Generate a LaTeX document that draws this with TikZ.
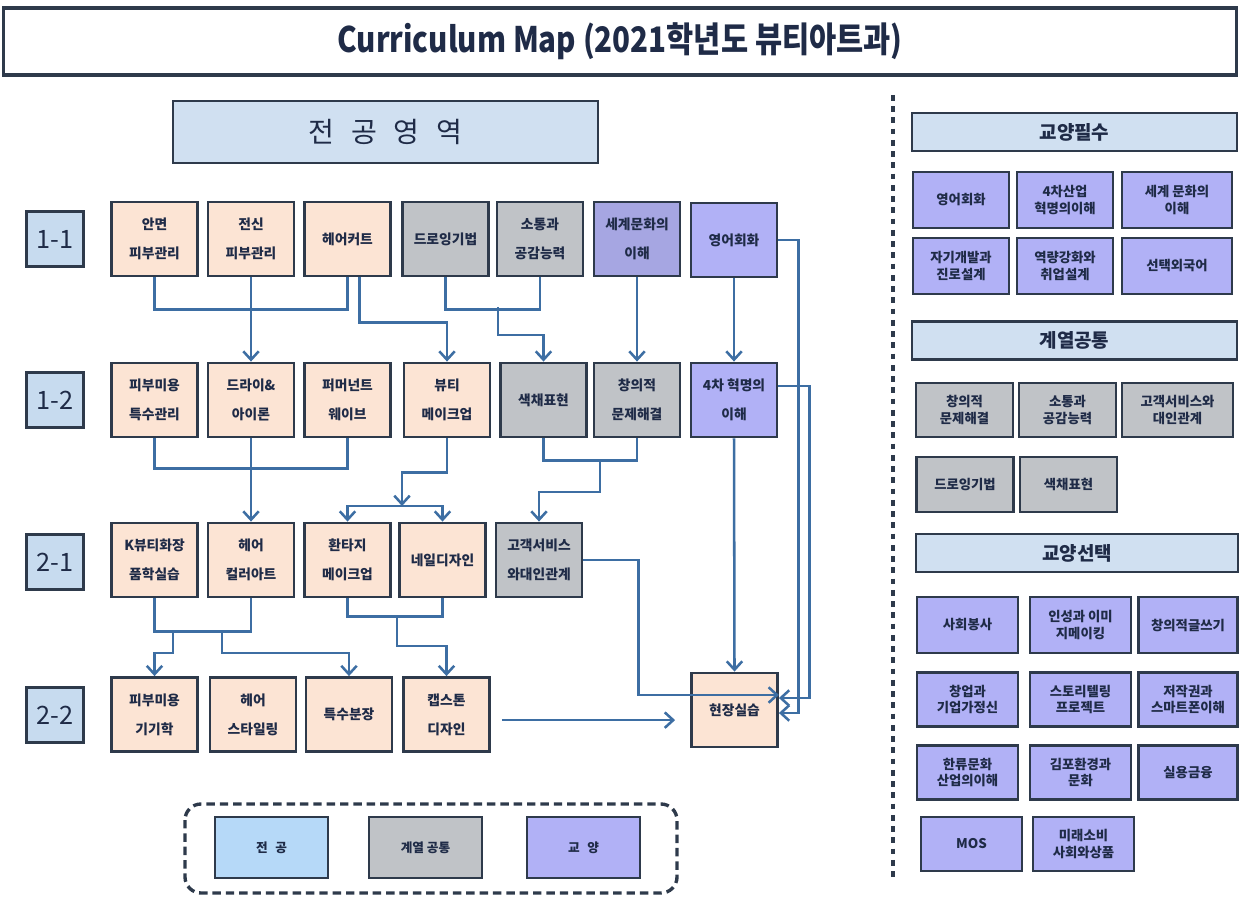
\documentclass[tikz,border=0pt]{standalone}
\usepackage{fontspec}
\setmainfont{Noto Sans CJK KR}
\usetikzlibrary{arrows.meta}
\definecolor{edge}{HTML}{2E3A4B}
\definecolor{ink}{HTML}{1F2B47}
\definecolor{peach}{HTML}{FCE4D4}
\definecolor{greybox}{HTML}{C0C3C7}
\definecolor{lav}{HTML}{B1B1F6}
\definecolor{lavdark}{HTML}{A6A6E2}
\definecolor{headblue}{HTML}{D0E0F1}
\definecolor{rowblue}{HTML}{C7DBEF}
\definecolor{keyblue}{HTML}{B6D9F8}
\definecolor{flow}{HTML}{3D6EA3}
\tikzset{
  box/.style={draw=edge, line width=2pt, minimum width=2.15cm, minimum height=1.85cm, inner sep=1pt, align=center, text=ink, font=\fontsize{9.8}{20.5}\selectfont\bfseries},
  major/.style={box, fill=peach},
  common/.style={box, fill=greybox},
  liberal/.style={box, fill=lav},
  rowlbl/.style={draw=edge, line width=2pt, fill=rowblue, minimum width=1.425cm, minimum height=1.375cm, text=ink, font=\fontsize{18}{20}\selectfont},
  header/.style={draw=edge, line width=1.7pt, fill=headblue, text=ink, minimum width=8.125cm, minimum height=0.95cm, inner sep=1pt, font=\fontsize{13.5}{15}\selectfont\bfseries},
  item/.style={draw=edge, line width=1.6pt, minimum height=1.4cm, inner sep=1pt, align=center, text=ink, font=\fontsize{9.5}{12}\selectfont\bfseries, fill=lav},
  keybox/.style={draw=edge, line width=1.7pt, minimum width=2.825cm, minimum height=1.525cm, text=ink, font=\fontsize{9}{11}\selectfont\bfseries},
  link/.style={draw=flow, line width=1.8pt, >={Straight Barb[length=6pt,width=11pt]}},
}
\begin{document}
\begin{tikzpicture}[x=0.025cm, y=-0.025cm]
\useasboundingbox (0,0) rectangle (1240,898);
\node[draw=edge, line width=2.2pt, minimum width=30.8cm, minimum height=1.675cm, text=ink, font=\fontsize{25}{28}\selectfont\bfseries] (title) at (620,41.5) {\scalebox{0.84}[1]{Curriculum Map (2021학년도 뷰티아트과)}};
\node[header, minimum width=10.625cm, minimum height=1.55cm, font=\fontsize{20}{22}\selectfont] (field area) at (385.5,132) {전\hspace{0.6em}공\hspace{0.6em}영\hspace{0.6em}역};

\node[rowlbl] (r11) at (55,239) {1-1};
\node[rowlbl] (r12) at (55,400) {1-2};
\node[rowlbl] (r21) at (55,562) {2-1};
\node[rowlbl] (r22) at (55,715) {2-2};

\node[major] (face) at (154.5,239) {안면\\피부관리};
\node[major] (body) at (251,239) {전신\\피부관리};
\node[major] (cut) at (347.5,239) {헤어커트};
\node[common] (drawing) at (445.5,239) {드로잉기법};
\node[common] (comm) at (540,239) {소통과\\공감능력};
\node[liberal, fill=lavdark] (world) at (637,239) {세계문화의\\이해};
\node[liberal] (eng) at (734,240) {영어회화};

\node[major] (skinsp) at (154.5,400) {피부미용\\특수관리};
\node[major] (dry) at (251,400) {드라이\&\\아이론};
\node[major] (perm) at (347.5,400) {퍼머넌트\\웨이브};
\node[major] (beauty) at (447,400) {뷰티\\메이크업};
\node[common] (color) at (543.5,400) {색채표현};
\node[common] (creative) at (637,400) {창의적\\문제해결};
\node[liberal] (fourth) at (734,400) {4차 혁명의\\이해};

\node[major] (kbeauty) at (154.5,560) {K뷰티화장\\품학실습};
\node[major] (haircolor) at (251,560) {헤어\\컬러아트};
\node[major] (fantasy) at (347.5,560) {환타지\\메이크업};
\node[major] (nail) at (442.5,560) {네일디자인};
\node[common] (service) at (539,560) {고객서비스\\와대인관계};

\node[major] (device) at (154.5,714.5) {피부미용\\기기학};
\node[major] (styling) at (253,714.5) {헤어\\스타일링};
\node[major] (special) at (349,714.5) {특수분장};
\node[major] (capstone) at (446.5,714.5) {캡스톤\\디자인};
\node[major] (field) at (734.5,710) {현장실습};

\draw[link] (face.south) -- ++(0,32) -| (cut.south);
\draw[link,->] (body.south) -- (dry.north);
\draw[link,->] ([xshift=0.3cm]cut.south) -- ++(0,45) -| (beauty.north);
\draw[link] (drawing.south) -- ++(0,32) -| (comm.south);
\coordinate (j1) at (498,307);
\draw[link,->] (j1) -- ++(0,28) -| (color.north);
\draw[link,->] (world.south) -- (creative.north);
\draw[link,->] (eng.south) -- (fourth.north);
\draw[link,->] (eng.east) -- ++(20,0) |- ([yshift=-0.075cm]field.east);
\draw[link,->] ([yshift=0.35cm]fourth.east) -- ++(31,0) |- ([yshift=0.3cm]field.east);
\draw[link,->] (fourth.south) -- (field.north);

\draw[link] (skinsp.south) -- ++(0,30) -| (perm.south);
\draw[link,->] (dry.south) -- (haircolor.north);
\coordinate (split) at (402,506);
\draw[link,->] (beauty.south) -- ++(0,34) -| (split);
\draw[link,->] (split) -| (fantasy.north);
\draw[link,->] (split) -| (nail.north);
\draw[link] (color.south) -- ++(0,22) -| (creative.south);
\coordinate (j2) at (600,460);
\draw[link,->] (j2) -- ++(0,32) -| (service.north);

\draw[link] (kbeauty.south) -- ++(0,33) -| (haircolor.south);
\coordinate (j3) at (173,630);
\coordinate (j4) at (222,630);
\draw[link,->] (j3) -- ++(0,23) -| (device.north);
\draw[link,->] (j4) -- ++(0,23) -| (special.north);
\draw[link] (fantasy.south) -- ++(0,18) -| (nail.south);
\coordinate (j5) at (397,615);
\draw[link,->] (j5) -- ++(0,31) -| (capstone.north);
\draw[link,->] (service.east) -- ++(55,0) |- ([yshift=0.375cm]field.east);
\coordinate (c0) at ([yshift=-0.14cm]capstone.east);
\draw[link,->,shorten <=0.275cm,shorten >=0.375cm] (c0) -- (c0 -| field.west);

\draw[draw=edge, line width=2.4pt, dash pattern=on 6pt off 3.5pt, rounded corners=0.4cm] (185,804) rectangle (677,893);
\node[keybox, fill=keyblue] (key major) at (271.5,847.5) {전\hspace{0.6em}공};
\node[keybox, fill=greybox] (key common) at (425.5,847.5) {계열 공통};
\node[keybox, fill=lav] (key liberal) at (583.5,847.5) {교\hspace{0.6em}양};

\draw[draw=edge, line width=2.2pt, dash pattern=on 4pt off 4pt] (893,95) -- (893,880);

\node[header] (req) at (1074.5,132) {교양필수};
\node[item, minimum width=2.4cm] (req1) at (961,200) {영어회화};
\node[item, minimum width=2.4cm] (req2) at (1065,200) {4차산업\\혁명의이해};
\node[item, minimum width=2.75cm] (req3) at (1177,200) {세계 문화의\\이해};
\node[item, minimum width=2.4cm] (req4) at (961,266) {자기개발과\\진로설계};
\node[item, minimum width=2.4cm] (req5) at (1065,266) {역량강화와\\취업설계};
\node[item, minimum width=2.75cm] (req6) at (1177,266) {선택외국어};

\node[header] (gen) at (1074.5,340.5) {계열공통};
\node[item, fill=greybox, minimum width=2.425cm, minimum height=1.35cm] (gen1) at (964.5,410) {창의적\\문제해결};
\node[item, fill=greybox, minimum width=2.425cm, minimum height=1.35cm] (gen2) at (1067.5,410) {소통과\\공감능력};
\node[item, fill=greybox, minimum width=2.775cm, minimum height=1.35cm] (gen3) at (1177.5,410) {고객서비스와\\대인관계};
\node[item, fill=greybox, minimum width=2.425cm, minimum height=1.375cm] (gen4) at (965,484.5) {드로잉기법};
\node[item, fill=greybox, minimum width=2.425cm, minimum height=1.375cm] (gen5) at (1068.5,484.5) {색채표현};

\node[header, minimum width=8.05cm] (opt) at (1077,553) {교양선택};
\node[item, minimum width=2.525cm] (opt1) at (967.5,625) {사회봉사};
\node[item, minimum width=2.525cm] (opt2) at (1080.5,625) {인성과 이미\\지메이킹};
\node[item, minimum width=2.475cm] (opt3) at (1188,625) {창의적글쓰기};
\node[item, minimum width=2.525cm, minimum height=1.35cm] (opt4) at (967.5,699.5) {창업과\\기업가정신};
\node[item, minimum width=2.525cm, minimum height=1.35cm] (opt5) at (1080.5,699.5) {스토리텔링\\프로젝트};
\node[item, minimum width=2.475cm, minimum height=1.35cm] (opt6) at (1188,699.5) {저작권과\\스마트폰이해};
\node[item, minimum width=2.525cm, minimum height=1.35cm] (opt7) at (967.5,772.5) {한류문화\\산업의이해};
\node[item, minimum width=2.525cm, minimum height=1.35cm] (opt8) at (1080.5,772.5) {김포환경과\\문화};
\node[item, minimum width=2.475cm, minimum height=1.35cm] (opt9) at (1188,772.5) {실용금융};
\node[item, minimum width=2.525cm, minimum height=1.35cm] (opt10) at (971.5,844) {MOS};
\node[item, minimum width=2.525cm, minimum height=1.35cm] (opt11) at (1083.5,844) {미래소비\\사회와상품};
\end{tikzpicture}
\end{document}
